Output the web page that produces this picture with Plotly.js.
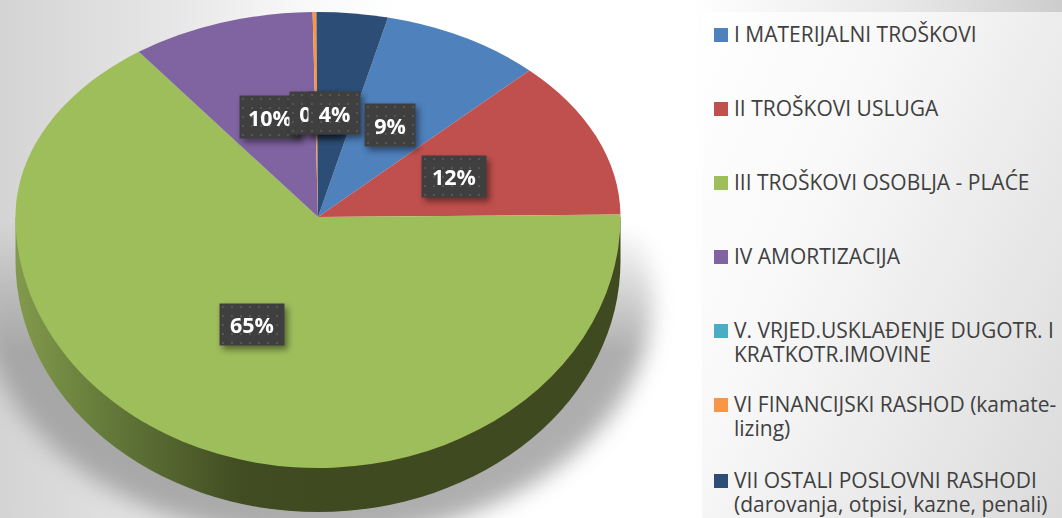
<!DOCTYPE html>
<html>
<head>
<meta charset="utf-8">
<script src="https://cdn.plot.ly/plotly-3.0.1.min.js"></script>
<style>
html,body{margin:0;padding:0;width:1062px;height:518px;overflow:hidden;background:#fff}
#wrap{position:relative;width:1062px;height:518px;overflow:hidden;
 background:linear-gradient(90deg,#d4d4d4 0,#e6e6e6 170px,#f8f8f8 300px,#fff 400px,#fff 690px,#e8e8e8 900px,#cdcdcd 1062px)}
#panel{position:absolute;left:702px;top:12px;width:360px;height:506px;
 background:linear-gradient(115deg,#ffffff 0,#f8f8f8 35%,#e6e6e6 75%,#dadada 100%)}
#shadowClip{position:absolute;left:0;top:222px;width:702px;height:296px;overflow:hidden;
 -webkit-mask-image:linear-gradient(180deg,transparent 0,#000 130px);mask-image:linear-gradient(180deg,transparent 0,#000 130px)}
#shadow{position:absolute;left:-18px;top:-162px;width:670px;height:480px;border-radius:50%;background:#9a9a9a;opacity:.8;filter:blur(11px)}
#chart{position:absolute;left:0;top:0;width:1062px;height:518px}
</style>
</head>
<body>
<div id="wrap"><div id="panel"></div><div id="shadowClip"><div id="shadow"></div></div><div id="chart"></div></div>
<script>
// ---- data ----
var categories = [
  "I MATERIJALNI TROŠKOVI",
  "II TROŠKOVI USLUGA",
  "III TROŠKOVI OSOBLJA - PLAĆE",
  "IV AMORTIZACIJA",
  "V. VRJED.USKLAĐENJE DUGOTR. I KRATKOTR.IMOVINE",
  "VI FINANCIJSKI RASHOD (kamate-lizing)",
  "VII OSTALI POSLOVNI RASHODI (darovanja, otpisi, kazne, penali)"
];
var legendLines = [
  ["I MATERIJALNI TROŠKOVI"],
  ["II TROŠKOVI USLUGA"],
  ["III TROŠKOVI OSOBLJA - PLAĆE"],
  ["IV AMORTIZACIJA"],
  ["V. VRJED.USKLAĐENJE DUGOTR. I","KRATKOTR.IMOVINE"],
  ["VI FINANCIJSKI RASHOD (kamate-","lizing)"],
  ["VII OSTALI POSLOVNI RASHODI","(darovanja, otpisi, kazne, penali)"]
];
var values = [8.6, 12.49, 65.1, 9.81, 0.0, 0.2, 3.8];
var colors = ["#4f81bd","#c0504d","#9ebd5b","#8064a2","#4bacc6","#f79646","#2c4d75"];

// ---- layout constants ----
var W = 1062, H = 518;
var cx = 318, cy = 217, rTop = 205, rx = 302.5, ryBottom = 251, depth = 44;
var rotationOffset = -0.3;
var legendY = [35, 109, 183, 257, 331, 405, 481];
var lineStep = 24;
var labelOrder = [3, 4, 6, 0, 1, 2];
var labelBox = {3:[240,96,60,42], 4:[290,92,50,42], 6:[309,92,51,42], 0:[365,104,50,42], 1:[422,156,64,41], 2:[220,304,64,41]};

var total = values.reduce(function(a,b){return a+b;},0);
function pct(i){ return Math.round(values[i]/total*100) + "%"; }

var annotations = [], shapes = [];
labelOrder.forEach(function(i){
  var b = labelBox[i];
  annotations.push({
    xref:"paper", yref:"paper", xanchor:"center", yanchor:"middle",
    x:(b[0]+b[2]/2)/W, y:1-(b[1]+b[3]/2)/H, width:b[2], height:b[3],
    text:"<b>"+pct(i)+"</b>", showarrow:false, bgcolor:"#3f3f3f", borderpad:0,
    font:{family:"Open Sans, sans-serif", size:21.5, color:"#ffffff"}, align:"center"
  });
});
legendLines.forEach(function(lines,i){
  var y = legendY[i];
  shapes.push({type:"rect", xref:"paper", yref:"paper", layer:"above",
    x0:714/W, x1:728/W, y0:1-(y+7)/H, y1:1-(y-7)/H,
    fillcolor:colors[i], line:{width:0}});
  lines.forEach(function(t,k){
    annotations.push({
      xref:"paper", yref:"paper", xanchor:"left", yanchor:"middle",
      x:732/W, y:1-(y-1+k*lineStep)/H, text:t, showarrow:false, align:"left",
      font:{family:"Open Sans, sans-serif", size:21, color:"#404040"}
    });
  });
});

var trace = {
  type:"pie", labels:categories, values:values, sort:false, direction:"clockwise",
  rotation: values[6]/total*360 + rotationOffset,
  marker:{colors:colors, line:{width:0}},
  textinfo:"none", hoverinfo:"label+percent", showlegend:false,
  domain:{x:[(cx-rTop)/W,(cx+rTop)/W], y:[1-(cy+rTop)/H,1-(cy-rTop)/H]}
};

var layout = {
  width:W, height:H, margin:{l:0,r:0,t:0,b:0}, showlegend:false,
  paper_bgcolor:"rgba(0,0,0,0)", plot_bgcolor:"rgba(0,0,0,0)",
  annotations:annotations, shapes:shapes
};

Plotly.newPlot("chart",[trace],layout,{displayModeBar:false,staticPlot:true}).then(function(){
  var NS = "http://www.w3.org/2000/svg";
  function el(n,a){var e=document.createElementNS(NS,n);for(var k in a)e.setAttribute(k,a[k]);return e;}
  var svg = document.querySelector("#chart .main-svg");
  var layer = document.querySelector("#chart .pielayer");
  var tr = layer.querySelector(".trace");

  var defs = el("defs",{});
  defs.innerHTML =
   '<clipPath id="clipTop"><rect x="0" y="0" width="'+W+'" height="'+(cy+0.5)+'"/></clipPath>'+
   '<clipPath id="clipBot"><rect x="0" y="'+cy+'" width="'+W+'" height="'+(H-cy)+'"/></clipPath>'+
   '<linearGradient id="sideGrad" gradientUnits="userSpaceOnUse" x1="'+(cx-rx)+'" x2="'+cx+'" y1="0" y2="0">'+
     '<stop offset="0" stop-color="#829a4c"/><stop offset="0.3" stop-color="#647a3a"/>'+
     '<stop offset="0.75" stop-color="#414c22"/><stop offset="1" stop-color="#3f4a20"/></linearGradient>';
  svg.insertBefore(defs, svg.firstChild);

  function sidePath(rX,rY,d,dy){
    return "M"+(cx-rX)+","+(cy+dy)+" L"+(cx-rX)+","+(cy+dy+d)+
           " A"+rX+","+rY+" 0 0 0 "+(cx+rX)+","+(cy+dy+d)+" L"+(cx+rX)+","+(cy+dy)+" Z";
  }
  var side = el("path",{d:sidePath(rx,ryBottom,depth,0),fill:"url(#sideGrad)"});

  var sx = rx/rTop, sy = ryBottom/rTop;
  function half(clip,yScale,node){
    var g = el("g",{"clip-path":"url(#"+clip+")"});
    var inner = el("g",{transform:"translate("+cx+","+cy+") scale("+sx+","+yScale+") translate("+(-cx)+","+(-cy)+")"});
    inner.appendChild(node);
    g.appendChild(inner);
    return g;
  }
  var clone = tr.cloneNode(true);
  var gBot = half("clipBot",sy,clone);
  var gTop = half("clipTop",1,tr);
  layer.appendChild(side);
  layer.appendChild(gBot);
  layer.appendChild(gTop);

  // Label boxes: dotted fill and soft drop shadow
  var ann = document.querySelectorAll("#chart .annotation");
  var ansvg = ann[0].ownerSVGElement;
  var d2 = el("defs",{});
  d2.innerHTML = '<pattern id="dots" width="9" height="9" patternUnits="userSpaceOnUse">'+
     '<rect width="9" height="9" fill="#3f3f3f"/><rect x="3" y="3" width="2" height="2" fill="#565656"/></pattern>';
  ansvg.insertBefore(d2, ansvg.firstChild);
  for (var i=0;i<labelOrder.length;i++){
    var rect = ann[i].querySelector("rect.bg");
    if(rect) rect.style.fill = "url(#dots)";
    ann[i].style.filter = "drop-shadow(3px 4px 3px rgba(0,0,0,0.45))";
  }
});
</script>
</body>
</html>
